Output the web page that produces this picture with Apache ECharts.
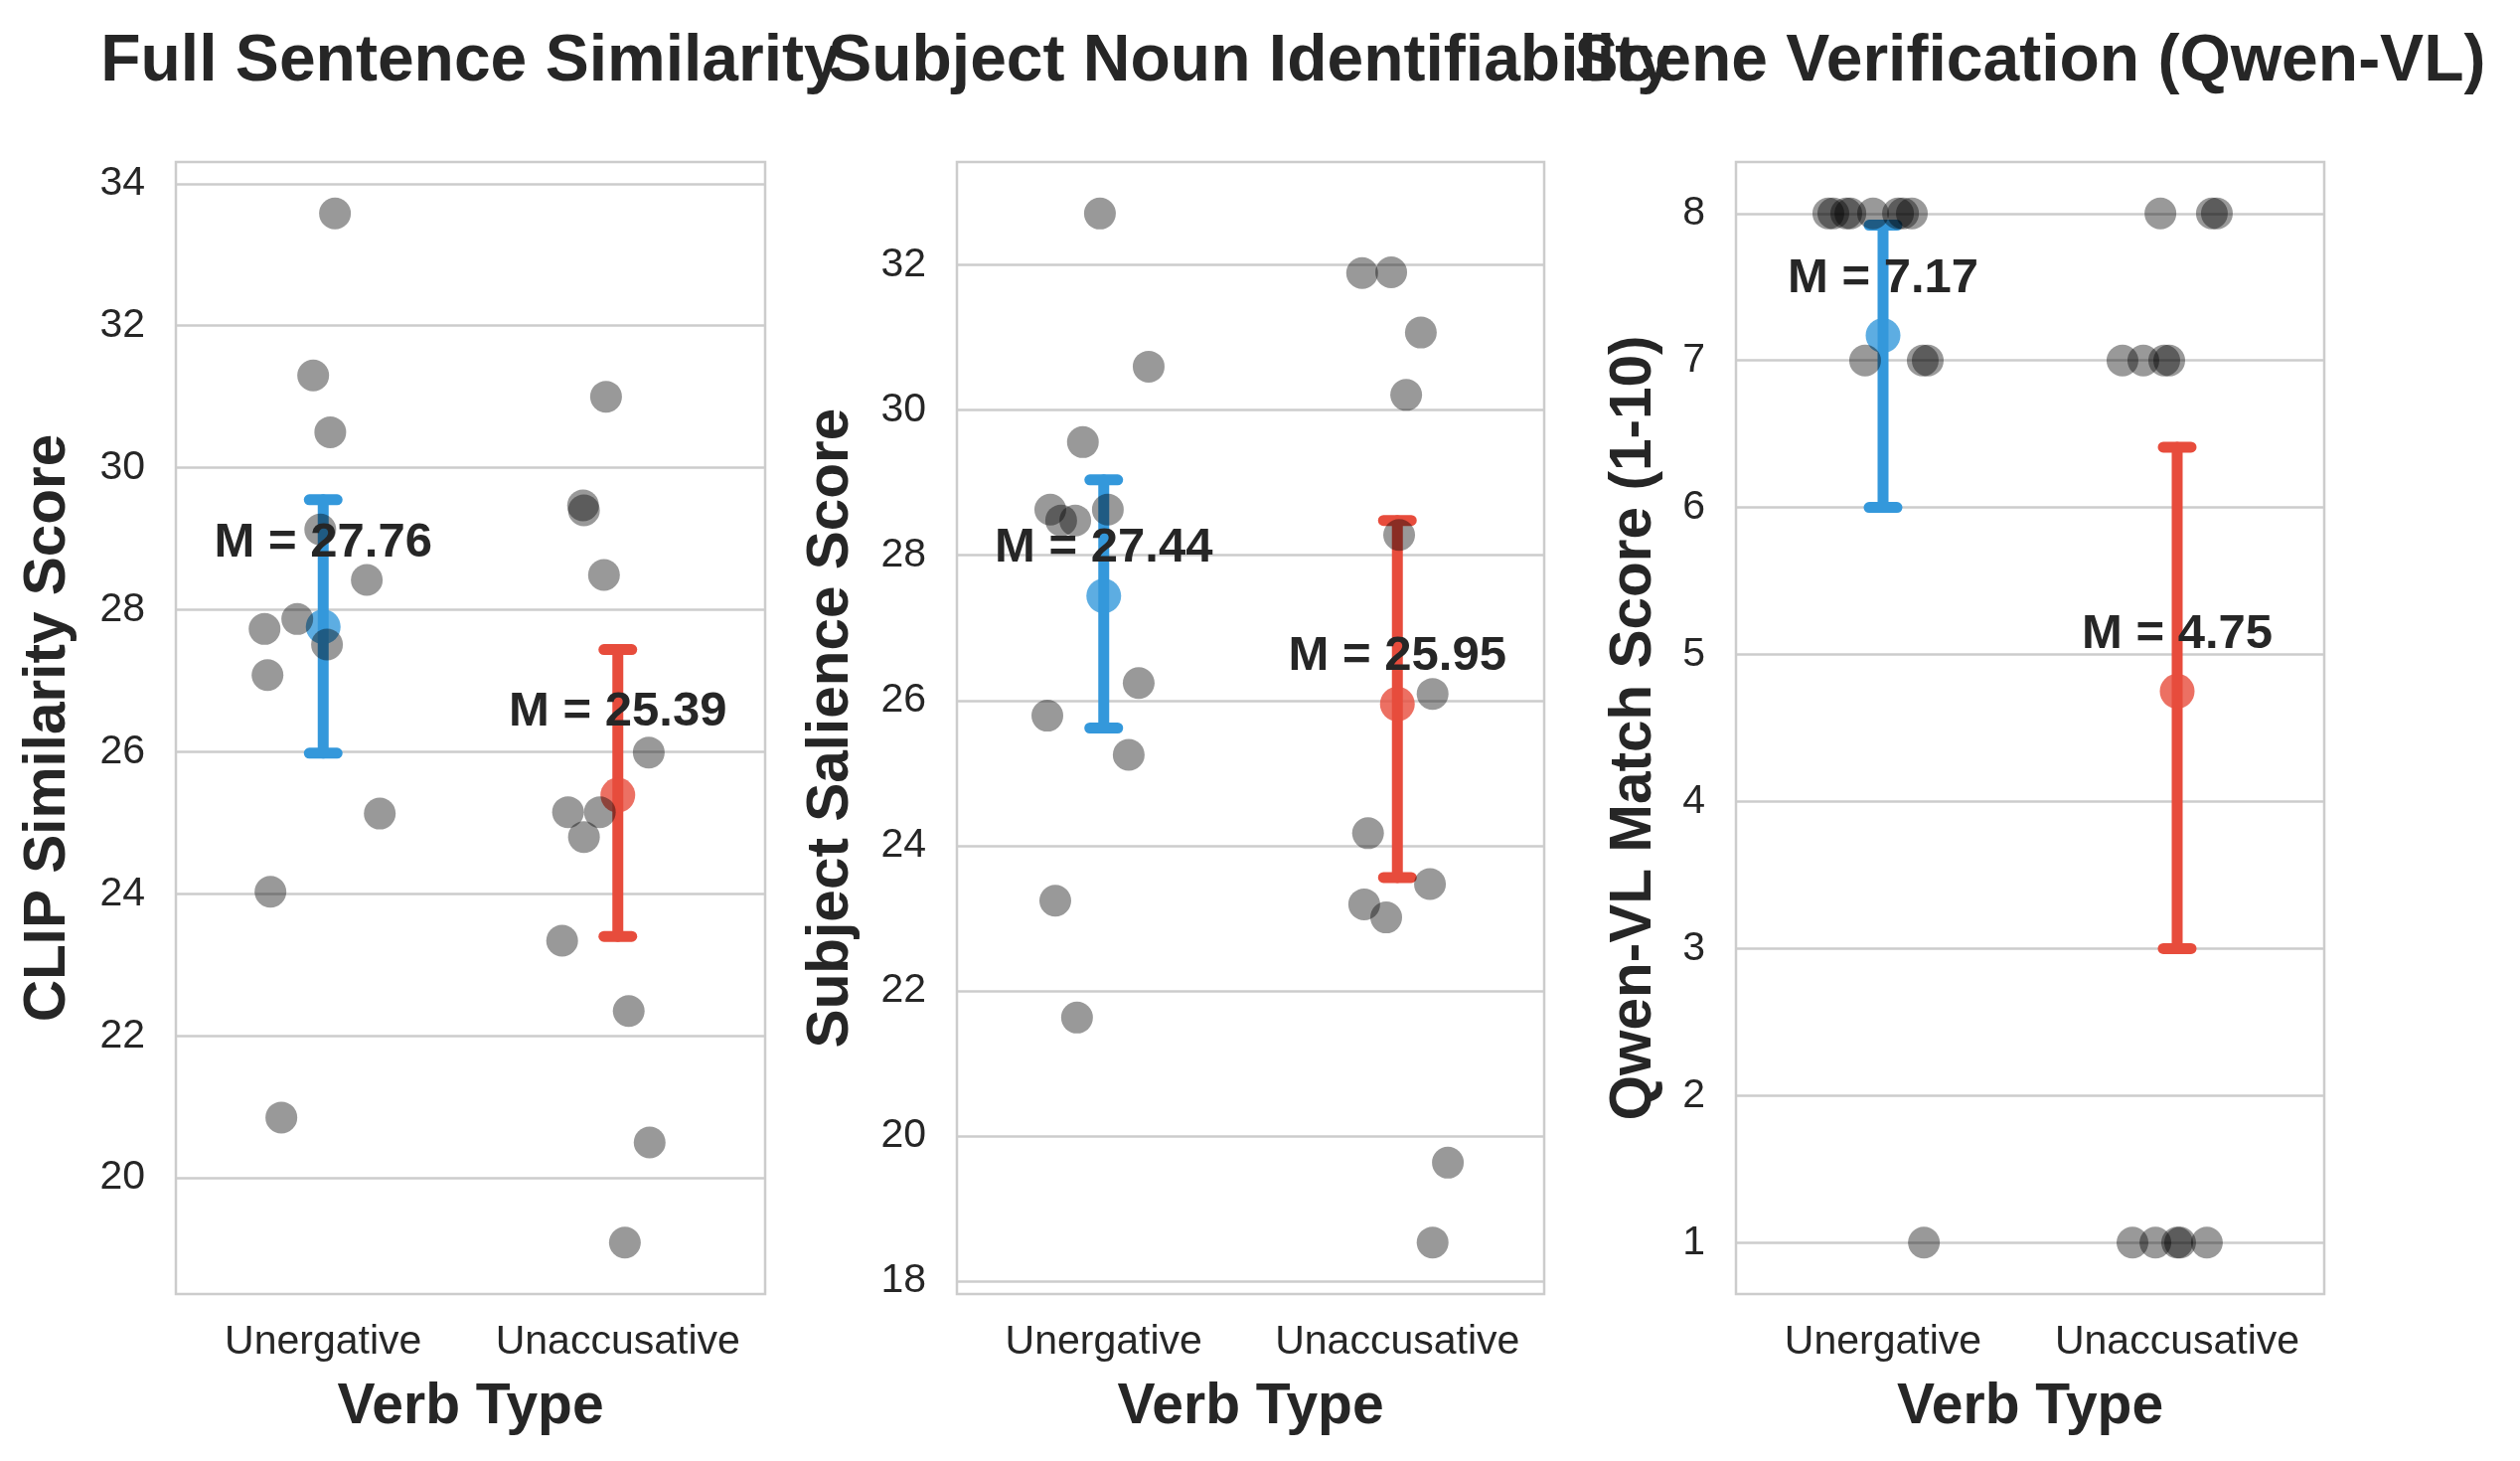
<!DOCTYPE html>
<html>
<head>
<meta charset="utf-8">
<script src="https://cdn.jsdelivr.net/npm/echarts@6/dist/echarts.min.js"></script>
<style>
html,body{margin:0;padding:0;background:#ffffff;}
#chart{width:2536px;height:1470px;}
</style>
</head>
<body>
<div id="chart"></div>
<script>
// ---------------- DATA ----------------
const categories = ['Unergative', 'Unaccusative'];
const panelTitles = ['Full Sentence Similarity', 'Subject Noun Identifiability', 'Scene Verification (Qwen-VL)'];
const yAxisNames = ['CLIP Similarity Score', 'Subject Salience Score', 'Qwen-VL Match Score (1-10)'];
const xAxisName = 'Verb Type';

// Panel 1: CLIP similarity
const clipUnerg = [33.58, 31.30, 30.50, 29.13, 28.42, 27.87, 27.73, 27.51, 27.08, 25.13, 24.03, 20.85];
const clipUnergJitter = [0.040, -0.034, 0.024, -0.010, 0.148, -0.088, -0.199, 0.013, -0.189, 0.192, -0.179, -0.142];
const clipUnacc = [31.00, 29.47, 29.40, 28.49, 25.99, 25.15, 25.15, 24.80, 23.34, 22.35, 20.50, 19.09];
const clipUnaccJitter = [-0.040, -0.118, -0.115, -0.047, 0.105, -0.169, -0.061, -0.115, -0.189, 0.037, 0.108, 0.024];
const clipMeans = [27.76, 25.39];
const clipCILow = [25.98, 23.40];
const clipCIHigh = [29.55, 27.44];
const clipTicks = [20, 22, 24, 26, 28, 30, 32, 34];

// Panel 2: Subject salience
const salUnerg = [32.71, 30.60, 29.56, 28.63, 28.48, 28.48, 28.63, 26.24, 25.79, 25.25, 23.24, 21.63];
const salUnergJitter = [-0.013, 0.153, -0.071, -0.182, -0.145, -0.097, 0.014, 0.119, -0.192, 0.085, -0.165, -0.091];
const salUnacc = [31.89, 31.90, 31.07, 30.21, 28.28, 26.09, 24.17, 23.47, 23.19, 23.01, 19.63, 18.53];
const salUnaccJitter = [-0.120, -0.021, 0.080, 0.030, 0.006, 0.120, -0.100, 0.111, -0.113, -0.038, 0.172, 0.120];
const salMeans = [27.44, 25.95];
const salCILow = [25.62, 23.56];
const salCIHigh = [29.04, 28.48];
const salTicks = [18, 20, 22, 24, 26, 28, 30, 32];

// Panel 3: Qwen-VL match score
const qwenUnerg = [8, 8, 8, 8, 8, 8, 8, 8, 7, 7, 7, 1];
const qwenUnergJitter = [-0.186, -0.169, -0.125, -0.111, -0.034, 0.051, 0.068, 0.098, -0.061, 0.135, 0.152, 0.139];
const qwenUnacc = [8, 8, 8, 7, 7, 7, 7, 1, 1, 1, 1, 1];
const qwenUnaccJitter = [-0.057, 0.118, 0.135, -0.186, -0.115, -0.044, -0.027, -0.152, -0.074, 0.000, 0.010, 0.101];
const qwenMeans = [7.17, 4.75];
const qwenCILow = [6.00, 3.00];
const qwenCIHigh = [7.92, 6.41];
const qwenTicks = [1, 2, 3, 4, 5, 6, 7, 8];

// ---------------- LAYOUT / STYLE ----------------
const groupColors = ['#3498db', '#e74c3c'];
const textColor = '#262626';
const gridColor = '#cccccc';
const fontFamily = '"Liberation Sans", Arial, Helvetica, sans-serif';

const panels = [
  { left: 177, width: 593, yMin: 18.365, yMax: 34.305, labelOffset: 1.23, nameX: 49,
    groups: [[clipUnerg, clipUnergJitter], [clipUnacc, clipUnaccJitter]], means: clipMeans, lo: clipCILow, hi: clipCIHigh, ticks: clipTicks },
  { left: 963, width: 591, yMin: 17.82, yMax: 33.42, labelOffset: 0.71, nameX: 837,
    groups: [[salUnerg, salUnergJitter], [salUnacc, salUnaccJitter]], means: salMeans, lo: salCILow, hi: salCIHigh, ticks: salTicks },
  { left: 1747, width: 592, yMin: 0.65, yMax: 8.35, labelOffset: 0.41, nameX: 1645,
    groups: [[qwenUnerg, qwenUnergJitter], [qwenUnacc, qwenUnaccJitter]], means: qwenMeans, lo: qwenCILow, hi: qwenCIHigh, ticks: qwenTicks }
];
const gridTop = 163, gridHeight = 1139;

const grids = [], xAxes = [], yAxes = [], series = [], graphics = [];

panels.forEach((p, i) => {
  grids.push({ left: p.left, top: gridTop, width: p.width, height: gridHeight, show: true,
    borderColor: gridColor, borderWidth: 2.5, backgroundColor: '#ffffff', containLabel: false });

  xAxes.push({ type: 'value', gridIndex: i, min: -0.5, max: 1.5,
    axisLine: { show: false }, splitLine: { show: false },
    axisTick: { show: false, customValues: [0, 1] },
    axisLabel: { customValues: [0, 1], formatter: v => categories[Math.round(v)] || '',
      fontSize: 41, color: textColor, fontFamily: fontFamily, margin: 28 } });

  yAxes.push({ type: 'value', gridIndex: i, min: p.yMin, max: p.yMax,
    axisLine: { show: false },
    axisTick: { show: false, customValues: p.ticks },
    axisLabel: { customValues: p.ticks, fontSize: 41, color: textColor, fontFamily: fontFamily, margin: 31 },
    splitLine: { show: true, lineStyle: { color: gridColor, width: 2.5 } } });

  // error bars
  const ebData = p.means.map((m, k) => [k, p.lo[k], p.hi[k]]);
  series.push({ type: 'custom', xAxisIndex: i, yAxisIndex: i, z: 2, silent: true,
    data: ebData,
    renderItem: function (params, api) {
      const x = api.value(0), lo = api.value(1), hi = api.value(2);
      const a = api.coord([x, lo]), b = api.coord([x, hi]);
      const col = groupColors[params.dataIndex];
      const st = { stroke: col, lineWidth: 11, lineCap: 'round' };
      const cw = 14;
      return { type: 'group', children: [
        { type: 'line', shape: { x1: a[0], y1: a[1], x2: b[0], y2: b[1] }, style: st },
        { type: 'line', shape: { x1: a[0] - cw, y1: a[1], x2: a[0] + cw, y2: a[1] }, style: st },
        { type: 'line', shape: { x1: b[0] - cw, y1: b[1], x2: b[0] + cw, y2: b[1] }, style: st }
      ] };
    } });

  // mean markers
  series.push({ type: 'scatter', xAxisIndex: i, yAxisIndex: i, z: 3, silent: true,
    symbol: 'circle', symbolSize: 35,
    data: p.means.map((m, k) => ({ value: [k, m], itemStyle: { color: groupColors[k] } })) });

  // individual points
  const pts = [];
  p.groups.forEach((g, k) => {
    g[0].forEach((v, j) => pts.push([k + g[1][j], v]));
  });
  series.push({ type: 'scatter', xAxisIndex: i, yAxisIndex: i, z: 4, silent: true,
    symbol: 'circle', symbolSize: 32,
    itemStyle: { color: 'rgba(0,0,0,0.5)' }, data: pts });

  // mean labels
  series.push({ type: 'custom', xAxisIndex: i, yAxisIndex: i, z: 6, silent: true,
    data: p.means.map((m, k) => [k, m]),
    renderItem: function (params, api) {
      const x = api.value(0), m = api.value(1);
      const c = api.coord([x, m + p.labelOffset]);
      return { type: 'text', x: c[0], y: c[1] + 4,
        style: { text: 'M = ' + m.toFixed(2), fill: textColor, align: 'center', verticalAlign: 'middle',
          font: 'bold 49px ' + fontFamily } };
    } });

  const cx = p.left + p.width / 2;
  graphics.push({ type: 'text', x: cx, y: 63, z: 10,
    style: { text: panelTitles[i], fill: textColor, align: 'center', verticalAlign: 'middle', font: 'bold 66px ' + fontFamily } });
  graphics.push({ type: 'text', x: cx, y: 1416, z: 10,
    style: { text: xAxisName, fill: textColor, align: 'center', verticalAlign: 'middle', font: 'bold 57px ' + fontFamily } });
  graphics.push({ type: 'text', x: p.nameX, y: gridTop + gridHeight / 2, rotation: Math.PI / 2, z: 10,
    style: { text: yAxisNames[i], fill: textColor, align: 'center', verticalAlign: 'middle', font: 'bold 58.5px ' + fontFamily } });
});

const chart = echarts.init(document.getElementById('chart'), null, { renderer: 'canvas' });
chart.setOption({
  animation: false,
  backgroundColor: '#ffffff',
  grid: grids,
  xAxis: xAxes,
  yAxis: yAxes,
  series: series,
  graphic: graphics
});
</script>
</body>
</html>
